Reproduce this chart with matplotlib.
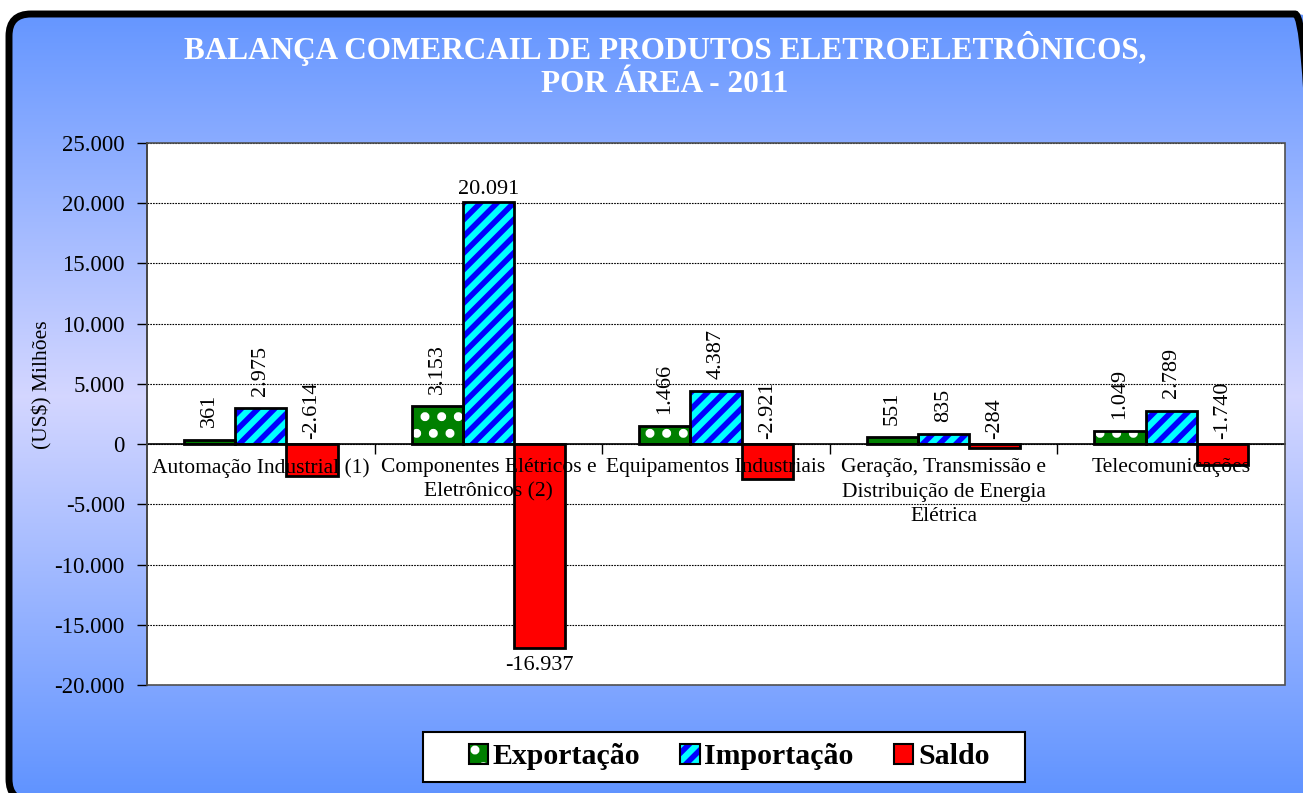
import numpy as np
import matplotlib.pyplot as plt
from matplotlib.patches import FancyBboxPatch, Rectangle, Patch
from matplotlib.ticker import FuncFormatter

# data
categories = ['Automação Industrial (1)',
              'Componentes Elétricos e\nEletrônicos (2)',
              'Equipamentos Industriais',
              'Geração, Transmissão e\nDistribuição de Energia\nElétrica',
              'Telecomunicações']
exportacao = [361, 3153, 1466, 551, 1049]
importacao = [2975, 20091, 4387, 835, 2789]
saldo = [-2614, -16937, -2921, -284, -1740]
series_names = ['Exportação', 'Importação', 'Saldo']

W, H = 1303, 793
plt.rcParams['font.family'] = ['Liberation Serif', 'DejaVu Serif']
plt.rcParams['hatch.linewidth'] = 4.0

fig = plt.figure(figsize=(W / 100, H / 100), dpi=100)
fig.patch.set_facecolor('white')


def fmt(v):
    s = '{:,}'.format(abs(int(v))).replace(',', '.')
    return ('-' if v < 0 else '') + s


# background gradient with rounded border (right and bottom run off the page)
bg = fig.add_axes([0, 0, 1, 1])
bg.axis('off')
top_c = np.array([0.38, 0.58, 1.0])
mid_c = np.array([0.83, 0.84, 1.0])
t = np.linspace(0, 1, 400)
w = 1 - np.abs(t - 0.5) * 2
grad = top_c[None, :] * (1 - w[:, None]) + mid_c[None, :] * w[:, None]
grad = grad[:, None, :]
frame = FancyBboxPatch((9, -8), 1308, H - 14 + 8, boxstyle='round,pad=0,rounding_size=22',
                       facecolor='none', edgecolor='black', linewidth=5, zorder=3,
                       clip_on=False)
bg.add_patch(frame)
im = bg.imshow(grad, extent=[0, W, 0, H], aspect='auto', origin='upper', zorder=1)
im.set_clip_path(frame)
bg.set_autoscale_on(False)
bg.set_xlim(0, W)
bg.set_ylim(0, H)

fig.text(665 / W, 1 - 65 / H, 'BALANÇA COMERCAIL DE PRODUTOS ELETROELETRÔNICOS,\nPOR ÁREA - 2011',
         ha='center', va='center', color='white', fontsize=22.5, fontweight='bold', linespacing=1.15)

ax = fig.add_axes([147 / W, 1 - 685 / H, (1285 - 147) / W, (685 - 143) / H])
ax.set_facecolor('white')

x = np.arange(len(categories))
bw = 0.225
styles = [
    dict(face='#008000', hatch='.', hcol='white'),
    dict(face='#00ffff', hatch='//', hcol='#0000ff'),
    dict(face='#ff0000', hatch=None, hcol='#ff0000'),
]
all_vals = [exportacao, importacao, saldo]
handles = []
for k, (vals, st) in enumerate(zip(all_vals, styles)):
    pos = x + (k - 1) * bw
    ax.bar(pos, vals, bw, color=st['face'], edgecolor=st['hcol'], hatch=st['hatch'],
           linewidth=0, zorder=2)
    ax.bar(pos, vals, bw, fill=False, edgecolor='black', linewidth=2, zorder=2.1)
    handles.append((Patch(facecolor=st['face'], edgecolor=st['hcol'], hatch=st['hatch'], linewidth=0),
                    Patch(fill=False, edgecolor='black', linewidth=1.5)))
    for xi, v in zip(pos, vals):
        if v > 15000:
            ax.annotate(fmt(v), (xi, v), xytext=(0, 2), textcoords='offset points',
                        ha='center', va='bottom', fontsize=16, zorder=4)
        elif v < -15000:
            ax.annotate(fmt(v), (xi, v), xytext=(0, -6), textcoords='offset points',
                        ha='center', va='top', fontsize=16, zorder=4)
        elif v >= 0:
            ax.annotate(fmt(v), (xi, v), xytext=(0, 9), textcoords='offset points',
                        ha='center', va='bottom', rotation=90, fontsize=16, zorder=4)
        else:
            ax.annotate(fmt(v), (xi, 0), xytext=(0, 4), textcoords='offset points',
                        ha='center', va='bottom', rotation=90, fontsize=16, zorder=4)

for xi, lab in zip(x, categories):
    ax.annotate(lab, (xi, 0), xytext=(0, -10), textcoords='offset points',
                ha='center', va='top', fontsize=15.5, linespacing=1.4, zorder=5)

ax.set_xlim(-0.5, len(categories) - 0.5)
ax.set_ylim(-20000, 25000)
ax.set_yticks(np.arange(-20000, 25001, 5000))
ax.yaxis.set_major_formatter(FuncFormatter(lambda v, p: fmt(v)))
ax.tick_params(axis='y', labelsize=16.5, length=7, width=1, pad=9, direction='out')
ax.set_xticks(x[:-1] + 0.5)
ax.set_xticklabels([])
ax.tick_params(axis='x', length=7, width=1, direction='out')
ax.yaxis.grid(True, linestyle=(0, (1.5, 1)), color='black', linewidth=0.8)
ax.set_axisbelow(True)

ax.spines['bottom'].set_position(('data', 0))
ax.spines['bottom'].set_linewidth(1.2)
ax.spines['left'].set_linewidth(1.2)
ax.spines['top'].set_visible(False)
ax.spines['right'].set_visible(False)
ax.add_patch(Rectangle((0, 0), 1, 1, transform=ax.transAxes, fill=False,
                       edgecolor='#505050', linewidth=1.2, zorder=3, clip_on=False))

fig.text(42 / W, 1 - 385 / H, '(US$) Milhões', rotation=90, ha='center', va='center', fontsize=15.5)

# legend box drawn separately so its padding matches
fig.patches.append(Rectangle((423 / W, 1 - 782 / H), (1025 - 423) / W, 50 / H,
                             transform=fig.transFigure, facecolor='white', edgecolor='black',
                             linewidth=1.5, zorder=5))
leg = fig.legend(handles, series_names, loc='center', bbox_to_anchor=(729 / W, 1 - 757 / H),
                 ncol=3, frameon=False, prop={'size': 21.5, 'weight': 'bold'},
                 handlelength=0.65, handleheight=0.65, handletextpad=0.15, columnspacing=1.35)
leg.set_zorder(6)

fig.savefig('out.png', dpi=100)
